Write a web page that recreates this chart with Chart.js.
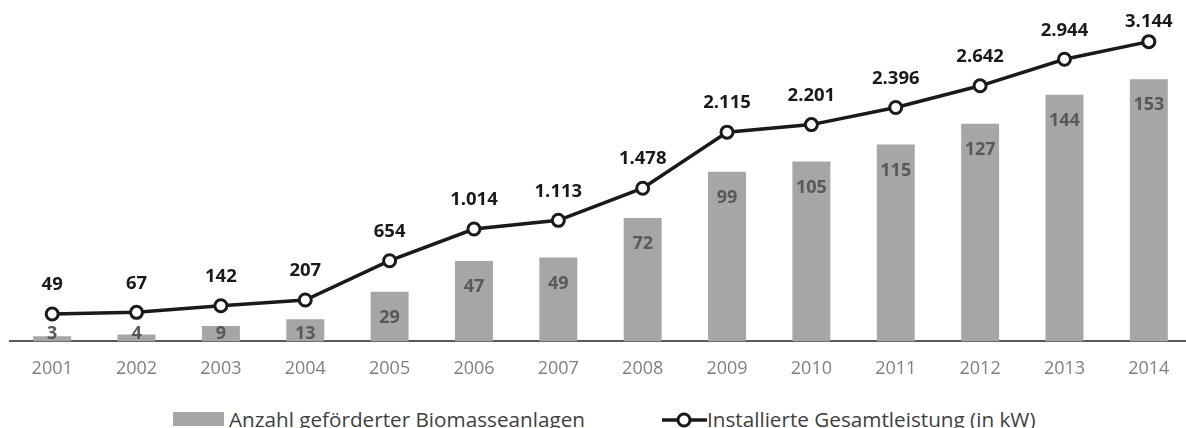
<!DOCTYPE html>
<html>
<head>
<meta charset="utf-8">
<script src="https://cdn.jsdelivr.net/npm/chart.js@4"></script>
<style>
  html, body { margin: 0; padding: 0; background: #fff; overflow: hidden; width: 1186px; height: 428px; }
  #wrap { position: absolute; left: 0; top: 0; width: 1200px; height: 389px; }
  .leg { position: absolute; top: 406px; font-family: "Open Sans", sans-serif; font-size: 20.7px; color: #404040; line-height: 26px; white-space: nowrap; }
  .box { position: absolute; left: 173px; top: 412px; width: 51px; height: 14px; background: #a6a6a6; }
</style>
</head>
<body>
<div id="wrap"><canvas id="chart"></canvas></div>
<div class="box"></div>
<div class="leg" style="left:229px">Anzahl geförderter Biomasseanlagen</div>
<svg style="position:absolute;left:660px;top:410px" width="48" height="20">
  <line x1="2" y1="10" x2="47" y2="10" stroke="#1a1a1a" stroke-width="3.5"/>
  <circle cx="24" cy="10" r="6" fill="#fff" stroke="#1a1a1a" stroke-width="3"/>
</svg>
<div class="leg" style="left:707px">Installierte Gesamtleistung (in kW)</div>
<script>
// Werte
const years = ['2001','2002','2003','2004','2005','2006','2007','2008','2009','2010','2011','2012','2013','2014'];
const anlagen = [3, 4, 9, 13, 29, 47, 49, 72, 99, 105, 115, 127, 144, 153];
const leistung = [49, 67, 142, 207, 654, 1014, 1113, 1478, 2115, 2201, 2396, 2642, 2944, 3144];

function fmt(v){
    return v.toLocaleString('de-DE');
}

const labelPlugin = {
    id: 'labels',
    afterDatasetsDraw(chart){
        const ctx = chart.ctx;
        ctx.save();
        ctx.textAlign = 'center';
        ctx.textBaseline = 'middle';
        // Balken-Beschriftung
        let meta = chart.getDatasetMeta(1);
        ctx.font = 'bold 18px "Open Sans", sans-serif';
        ctx.fillStyle = '#595959';
        meta.data.forEach(function(el, i){
            let y = Math.min(el.y + 26, chart.chartArea.bottom - 8);
            ctx.fillText(anlagen[i], el.x, y);
        });
        // Linien-Beschriftung
        meta = chart.getDatasetMeta(0);
        ctx.font = 'bold 18.5px "Open Sans", sans-serif';
        ctx.fillStyle = '#1a1a1a';
        meta.data.forEach(function(el, i){
            let y = Math.max(el.y - 29, 22);
            ctx.fillText(fmt(leistung[i]), el.x, y);
        });
        ctx.restore();
    }
};

new Chart(document.getElementById('chart'), {
    data: {
        labels: years,
        datasets: [{
            type: 'line',
            label: 'Installierte Gesamtleistung (in kW)',
            data: leistung,
            yAxisID: 'y2',
            borderColor: '#1a1a1a',
            borderWidth: 3.5,
            pointRadius: 6,
            pointBorderWidth: 3,
            pointBackgroundColor: '#fff',
            pointBorderColor: '#1a1a1a',
            tension: 0,
            order: 0
        }, {
            type: 'bar',
            label: 'Anzahl geförderter Biomasseanlagen',
            data: anlagen,
            yAxisID: 'y',
            backgroundColor: '#a6a6a6',
            barPercentage: 0.45,
            categoryPercentage: 1,
            order: 1
        }]
    },
    options: {
        responsive: true,
        maintainAspectRatio: false,
        animation: false,
        layout: { padding: { left: 10, right: 2, top: 20, bottom: 0 } },
        plugins: { legend: { display: false }, tooltip: { enabled: false } },
        scales: {
            x: {
                grid: { display: false },
                border: { display: true, color: '#595959', width: 2 },
                ticks: { color: '#808080', font: { family: 'Open Sans', size: 18 }, padding: 9, maxRotation: 0 }
            },
            y: { display: false, min: 0, max: 187.6 },
            y2: { display: false, min: -263, max: 3390 }
        }
    },
    plugins: [labelPlugin]
});
</script>
</body>
</html>
